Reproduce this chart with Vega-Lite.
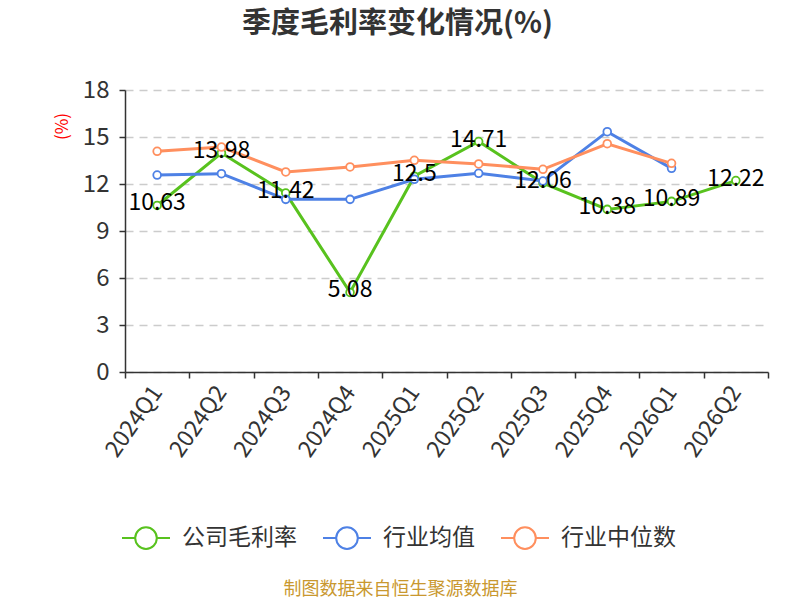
{
  "$schema": "https://vega.github.io/schema/vega-lite/v6.json",
  "autosize": "none",
  "width": 643,
  "height": 282,
  "padding": {"left": 125, "top": 90, "right": 32, "bottom": 228},
  "background": "#ffffff",
  "config": {
    "font": "Noto Sans CJK SC",
    "view": {"stroke": null}
  },
  "title": {
    "text": "季度毛利率变化情况(%)",
    "fontSize": 29,
    "fontWeight": "bold",
    "color": "#333333",
    "anchor": "middle",
    "dx": -49,
    "offset": 39
  },
  "data": {
    "values": [
      {"quarter": "2024Q1", "series": "公司毛利率", "value": 10.63},
      {"quarter": "2024Q2", "series": "公司毛利率", "value": 13.98},
      {"quarter": "2024Q3", "series": "公司毛利率", "value": 11.42},
      {"quarter": "2024Q4", "series": "公司毛利率", "value": 5.08},
      {"quarter": "2025Q1", "series": "公司毛利率", "value": 12.5},
      {"quarter": "2025Q2", "series": "公司毛利率", "value": 14.71},
      {"quarter": "2025Q3", "series": "公司毛利率", "value": 12.06},
      {"quarter": "2025Q4", "series": "公司毛利率", "value": 10.38},
      {"quarter": "2026Q1", "series": "公司毛利率", "value": 10.89},
      {"quarter": "2026Q2", "series": "公司毛利率", "value": 12.22},
      {"quarter": "2024Q1", "series": "行业均值", "value": 12.57},
      {"quarter": "2024Q2", "series": "行业均值", "value": 12.66},
      {"quarter": "2024Q3", "series": "行业均值", "value": 11.02},
      {"quarter": "2024Q4", "series": "行业均值", "value": 11.02},
      {"quarter": "2025Q1", "series": "行业均值", "value": 12.3},
      {"quarter": "2025Q2", "series": "行业均值", "value": 12.68},
      {"quarter": "2025Q3", "series": "行业均值", "value": 12.19},
      {"quarter": "2025Q4", "series": "行业均值", "value": 15.34},
      {"quarter": "2026Q1", "series": "行业均值", "value": 13.0},
      {"quarter": "2024Q1", "series": "行业中位数", "value": 14.09},
      {"quarter": "2024Q2", "series": "行业中位数", "value": 14.36},
      {"quarter": "2024Q3", "series": "行业中位数", "value": 12.77},
      {"quarter": "2024Q4", "series": "行业中位数", "value": 13.09},
      {"quarter": "2025Q1", "series": "行业中位数", "value": 13.51},
      {"quarter": "2025Q2", "series": "行业中位数", "value": 13.28},
      {"quarter": "2025Q3", "series": "行业中位数", "value": 12.94},
      {"quarter": "2025Q4", "series": "行业中位数", "value": 14.57},
      {"quarter": "2026Q1", "series": "行业中位数", "value": 13.32}
    ]
  },
  "encoding": {
    "x": {
      "field": "quarter",
      "type": "ordinal",
      "scale": {"type": "band", "paddingInner": 0, "paddingOuter": 0},
      "axis": {
        "title": "制图数据来自恒生聚源数据库",
        "titleColor": "#c9982f",
        "titleFontSize": 18,
        "titleFontWeight": "normal",
        "titleX": 275,
        "titleY": 217,
        "titleAlign": "center",
        "titleBaseline": "middle",
        "labelAngle": -55,
        "labelAlign": "right",
        "labelBaseline": "middle",
        "labelFontSize": 23,
        "labelColor": "#333333",
        "labelPadding": 10,
        "tickBand": "extent",
        "tickSize": 6,
        "tickColor": "#333333",
        "tickWidth": 1.5,
        "domainColor": "#333333",
        "domainWidth": 1.5,
        "grid": false
      }
    },
    "y": {
      "field": "value",
      "type": "quantitative",
      "scale": {"domain": [0, 18], "nice": false},
      "axis": {
        "values": [0, 3, 6, 9, 12, 15, 18],
        "title": "(%)",
        "titleColor": "#ff0000",
        "titleFontSize": 17,
        "titleFontWeight": "normal",
        "titleAngle": -90,
        "titleX": -63,
        "titleY": 36,
        "titleAlign": "center",
        "titleBaseline": "middle",
        "labelFontSize": 24,
        "labelColor": "#333333",
        "labelPadding": 10,
        "tickSize": 6,
        "tickColor": "#333333",
        "tickWidth": 1.5,
        "domainColor": "#333333",
        "domainWidth": 1.5,
        "grid": true,
        "gridColor": "#cccccc",
        "gridWidth": 1.5,
        "gridDash": [8, 6]
      }
    },
    "color": {
      "field": "series",
      "type": "nominal",
      "scale": {
        "domain": ["公司毛利率", "行业均值", "行业中位数"],
        "range": ["#58c21e", "#4e81e5", "#ff8f5e"]
      },
      "legend": {
        "title": null,
        "orient": "none",
        "direction": "horizontal",
        "legendX": -4,
        "legendY": 423,
        "padding": 0,
        "symbolSize": 2304,
        "labelFontSize": 23,
        "labelColor": "#333333",
        "labelOffset": 11,
        "columnPadding": 22,
        "encode": {
          "symbols": {
            "update": {
              "shape": {"value": "M-1,0H-0.45M0.45,0H1M0.45,0A0.45,0.45 0 1,1 -0.45,0A0.45,0.45 0 1,1 0.45,0Z"},
              "fill": {"value": "#ffffff"},
              "fillOpacity": {"value": 1},
              "strokeWidth": {"value": 2},
              "opacity": {"value": 1}
            }
          }
        }
      }
    }
  },
  "layer": [
    {
      "mark": {"type": "line", "strokeWidth": 3}
    },
    {
      "mark": {"type": "point", "filled": false, "fill": "#ffffff", "fillOpacity": 1, "size": 60, "strokeWidth": 1.8, "opacity": 1}
    },
    {
      "transform": [{"filter": "datum.series === '公司毛利率'"}],
      "mark": {"type": "text", "fontSize": 23, "baseline": "middle", "align": "center", "dy": -2},
      "encoding": {
        "text": {"field": "value", "type": "quantitative"},
        "color": {"value": "#000000"}
      }
    }
  ]
}
